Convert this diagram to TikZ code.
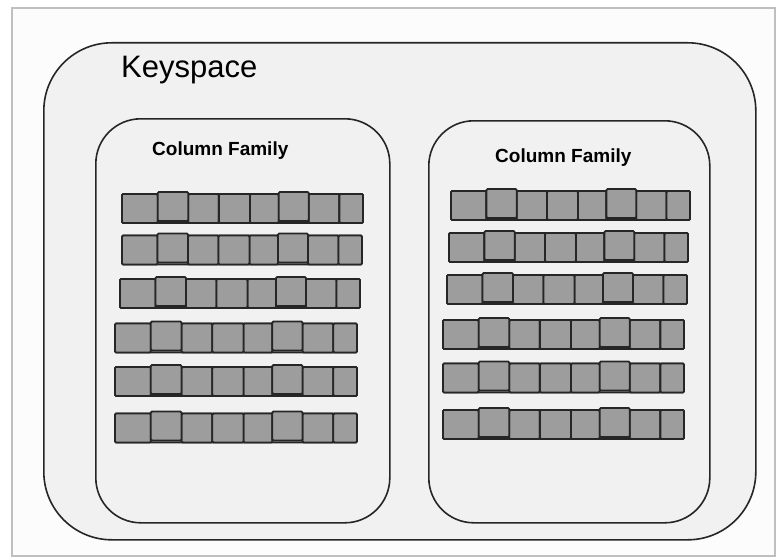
\documentclass[tikz,border=0pt]{standalone}
\usepackage{fontspec}
\setmainfont{Liberation Sans}
\usetikzlibrary{positioning,calc}
\definecolor{boxfill}{HTML}{F1F1F1}
\definecolor{cellfill}{HTML}{9D9D9D}
\definecolor{edge}{HTML}{262626}

\begin{document}
\begin{tikzpicture}[x=1pt, y=-1pt,
		panel/.style={draw=edge, line width=1.6pt, fill=boxfill, rounded corners=#1, anchor=north west, inner sep=0pt},
		cellbox/.style={draw=edge, line width=1.8pt, fill=cellfill, rounded corners=1.2pt},
		famlabel/.style={anchor=base west, inner sep=0pt, font=\fontsize{19}{22}\selectfont\bfseries}]
		\useasboundingbox (0,0) rectangle (778,559);
		\fill[white] (0,0) rectangle (778,559);
		\coordinate (F1) at (12,8);
		\coordinate (F2) at (775,556);
		\draw[black!25, line width=1.2pt, fill=black!1] (F1) rectangle (F2);

		\node[panel=68pt, minimum width=712pt, minimum height=497pt] (keyspace) at (43,42) {};
		\node[panel=45pt, minimum width=294pt, minimum height=404pt] (famL) at (95,118) {};
		\node[panel=45pt, minimum width=281pt, minimum height=402pt] (famR) at (428,120) {};

		\node[anchor=base west, inner sep=0pt, font=\fontsize{31}{36}\selectfont] (kslabel) at (121,78) {Keyspace};
		\node[famlabel] (famLlabel) at (152,155) {Column Family};
		\node[famlabel] (famRlabel) at (495,162) {Column Family};

		\foreach \xl/\xr/\yc in {122/363/208.5, 122/362/250, 120/360/293.5, 115/357/338, 115/357/381.5, 115/357/428,
				451/690/205.5, 449/688/247.5, 447/687/289.5, 443/684/334.5, 443/684/378, 443/684/424.5} {
			\draw[cellbox] (\xl,{\yc-14.5}) rectangle (\xr,{\yc+14.5});
			\foreach \a/\b/\dy in {0/.148/0, .275/.402/0, .531/.650/0, .775/.902/0,
					.148/.275/-2, .402/.531/0, .650/.775/-2, .902/1/0}
				\draw[cellbox] ({\xl+\a*(\xr-\xl)},{\yc-14.5+(\dy)}) rectangle ({\xl+\b*(\xr-\xl)},{\yc+14.5+(\dy)});
		}
	\end{tikzpicture}
\end{document}
